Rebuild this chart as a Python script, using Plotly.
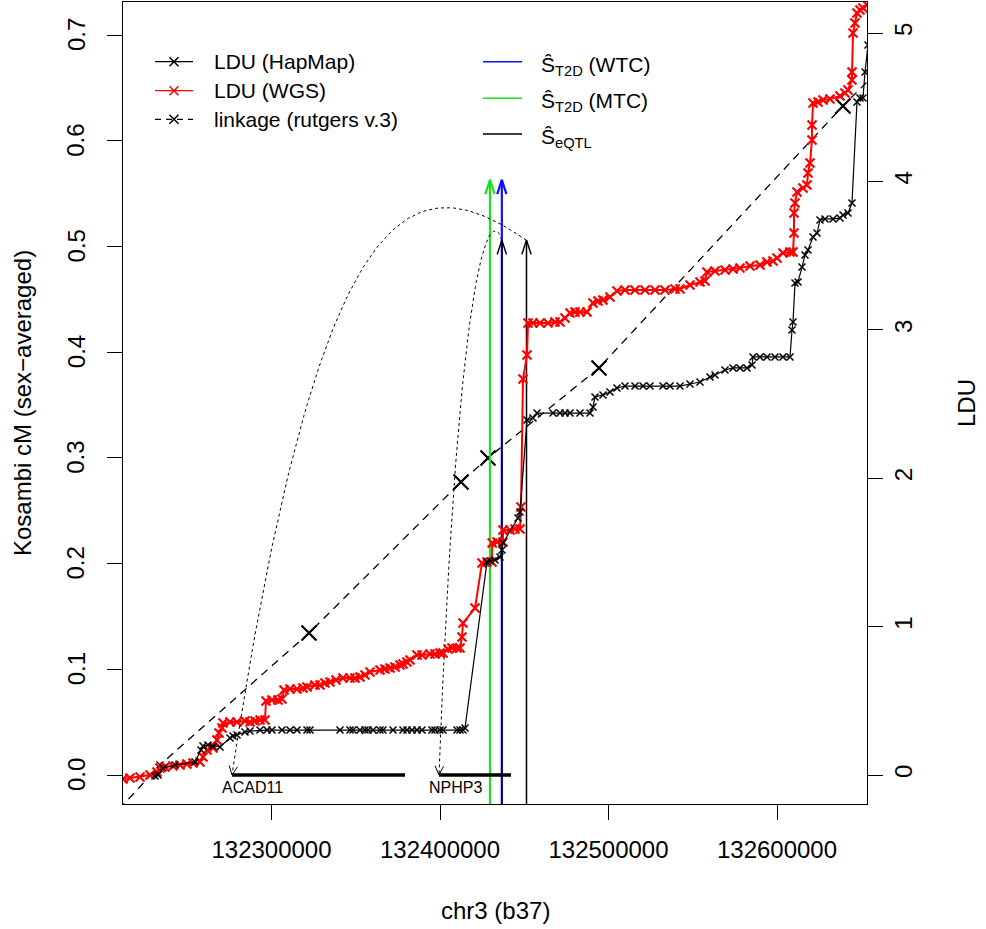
import math
import plotly.graph_objects as go

# ---------------- data ----------------
wgs_pos = [132211870, 132216024, 132221959, 132227894, 132232048, 132233828, 132236796, 132241543, 132245698, 132249852,
           132253413, 132257567, 132259347, 132261721, 132265282, 132267656, 132268843, 132270623, 132271217, 132275371,
           132279525, 132284273, 132287241, 132290208, 132293175, 132296143, 132296736, 132300297, 132303858, 132306232,
           132307418, 132310979, 132315134, 132318694, 132321068, 132325816, 132328783, 132331751, 132334718, 132338279,
           132342433, 132346588, 132349555, 132352522, 132355490, 132358457, 132364392, 132367359, 132370326, 132373294,
           132376261, 132378041, 132380415, 132382196, 132386350, 132389317, 132394065, 132397032, 132400000, 132401780,
           132404748, 132407121, 132410089, 132411869, 132413056, 132413650, 132420771, 132424926, 132427893, 132430860,
           132431000, 132433828, 132437389, 132437400, 132441543, 132444510, 132447477, 132448071, 132449258, 132451631,
           132452225, 132455193, 132459347, 132464095, 132468249, 132471216, 132474184, 132477151, 132480118, 132483086,
           132487240, 132490801, 132493768, 132496735, 132500890, 132505044, 132509792, 132515726, 132521661, 132527596,
           132533531, 132539465, 132542433, 132548367, 132554302, 132557269, 132558456, 132563204, 132569139, 132573887,
           132578041, 132583976, 132589910, 132594064, 132597625, 132600000, 132603560, 132607714, 132609495, 132610088,
           132610100, 132610682, 132611869, 132615429, 132617803, 132618397, 132619584, 132620771, 132620800, 132621364,
           132624331, 132627299, 132631453, 132637388, 132640355, 132642136, 132644509, 132644550, 132645103, 132646290,
           132647477, 132649257, 132651038, 132653411]
wgs_ldu = [-0.027, -0.020, -0.013, 0.000, 0.020, 0.047, 0.054, 0.061, 0.067, 0.074,
           0.081, 0.088, 0.121, 0.168, 0.182, 0.236, 0.283, 0.317, 0.350, 0.357,
           0.357, 0.364, 0.357, 0.364, 0.371, 0.371, 0.499, 0.505, 0.505, 0.512,
           0.573, 0.580, 0.580, 0.586, 0.593, 0.606, 0.606, 0.620, 0.627, 0.640,
           0.654, 0.654, 0.654, 0.660, 0.674, 0.694, 0.708, 0.714, 0.721, 0.728,
           0.741, 0.748, 0.761, 0.775, 0.809, 0.809, 0.815, 0.815, 0.822, 0.822,
           0.849, 0.856, 0.856, 0.856, 0.930, 1.024, 1.125, 1.429, 1.435, 1.435,
           1.563, 1.570, 1.570, 1.651, 1.651, 1.658, 1.658, 1.806, 2.668, 2.830,
           3.046, 3.046, 3.046, 3.046, 3.053, 3.053, 3.080, 3.113, 3.120, 3.120,
           3.120, 3.181, 3.194, 3.201, 3.221, 3.261, 3.268, 3.268, 3.268, 3.268,
           3.268, 3.275, 3.275, 3.302, 3.322, 3.329, 3.390, 3.396, 3.403, 3.410,
           3.416, 3.430, 3.437, 3.457, 3.464, 3.484, 3.518, 3.524, 3.524, 3.652,
           3.787, 3.854, 3.929, 3.956, 3.976, 4.057, 4.124, 4.279, 4.380, 4.528,
           4.535, 4.549, 4.555, 4.575, 4.596, 4.616, 4.683, 4.737, 5.000, 5.067,
           5.135, 5.155, 5.168, 5.189]

hap_pos = [132230861, 132232641, 132235609, 132242730, 132254600, 132258160, 132259347, 132262315, 132265282, 132269436,
           132275371, 132277152, 132279525, 132284273, 132287241, 132293175, 132297329, 132300297, 132306232, 132310979,
           132315134, 132321068, 132322849, 132340653, 132346588, 132348368, 132352522, 132355490, 132357270, 132360237,
           132364392, 132366172, 132372107, 132378041, 132380415, 132383383, 132386350, 132389317, 132395252, 132397032,
           132400000, 132401780, 132410089, 132411869, 132413650, 132414837, 132427893, 132429673, 132432641, 132435608,
           132436795, 132437389, 132446290, 132447477, 132451631, 132455193, 132457566, 132467062, 132471216, 132474184,
           132477151, 132483086, 132489020, 132490801, 132491988, 132496735, 132500890, 132505044, 132509792, 132515726,
           132520474, 132524629, 132532344, 132536498, 132542433, 132548367, 132554302, 132560237, 132563204, 132569139,
           132573887, 132578041, 132582195, 132585162, 132585756, 132589910, 132594064, 132598812, 132603560, 132607714,
           132608901, 132609495, 132610682, 132612462, 132614836, 132616616, 132618397, 132621364, 132623738, 132625518,
           132628486, 132633233, 132637388, 132639168, 132642136, 132644509, 132647477, 132649257, 132651038, 132652225,
           132654005]
hap_ldu = [-0.007, 0.000, 0.047, 0.067, 0.088, 0.168, 0.195, 0.202, 0.195, 0.189,
           0.249, 0.263, 0.270, 0.290, 0.296, 0.303, 0.303, 0.303, 0.303, 0.303,
           0.303, 0.303, 0.303, 0.303, 0.303, 0.303, 0.303, 0.303, 0.303, 0.303,
           0.303, 0.303, 0.303, 0.303, 0.303, 0.303, 0.303, 0.303, 0.303, 0.303,
           0.303, 0.303, 0.303, 0.303, 0.303, 0.317, 1.435, 1.442, 1.449, 1.469,
           1.516, 1.563, 1.732, 1.772, 2.392, 2.406, 2.439, 2.439, 2.439, 2.439,
           2.439, 2.439, 2.439, 2.480, 2.547, 2.561, 2.581, 2.608, 2.621, 2.621,
           2.621, 2.621, 2.621, 2.621, 2.621, 2.635, 2.648, 2.682, 2.695, 2.729,
           2.743, 2.743, 2.743, 2.763, 2.817, 2.817, 2.817, 2.817, 2.817, 2.817,
           2.999, 3.053, 3.315, 3.322, 3.423, 3.504, 3.538, 3.625, 3.652, 3.740,
           3.747, 3.747, 3.753, 3.774, 3.787, 3.854, 4.535, 4.562, 4.562, 4.737,
           4.919]

link_pos = [132198220, 132233828, 132322255, 132412463, 132428486, 132494362, 132639168, 132661126]
link_cm = [-0.052, 0.0095, 0.1343, 0.2772, 0.2999, 0.3851, 0.6329, 0.6679]
link_big = [False, False, True, True, True, True, True, False]

gene_names = ["ACAD11", "NPHP3"]
gene_start = [132276558, 132399407]
gene_end = [132379228, 132442136]

snp_t2d_wtc = 132436700
snp_t2d_mtc = 132429673
snp_eqtl = [132436700, 132451335]
eqtl_target = ["NPHP3", "ACAD11"]
t2d_arrow_cm = 0.563
eqtl_arrow_cm = 0.506

x_ticks = [132300000, 132400000, 132500000, 132600000]
cm_ticks = [0.0, 0.1, 0.2, 0.3, 0.4, 0.5, 0.6, 0.7]
ldu_ticks = [0, 1, 2, 3, 4, 5]

# ---------------- layout geometry ----------------
W, H = 986, 929
PL, PR, PT, PB = 123, 867, 2, 804
X_RANGE = [132211870, 132653412]
CM_RANGE = [-0.02743, 0.73125]
LDU_RANGE = [-0.19542, 5.2089]
BPP = (X_RANGE[1] - X_RANGE[0]) / (PR - PL)
CPP = (CM_RANGE[1] - CM_RANGE[0]) / (PB - PT)
FONT = "Liberation Sans, Arial, Helvetica, sans-serif"


def to_px(bp, cm):
    return PL + (bp - X_RANGE[0]) / BPP, PB - (cm - CM_RANGE[0]) / CPP


def to_data(x, y):
    return X_RANGE[0] + (x - PL) * BPP, CM_RANGE[0] + (PB - y) * CPP


def head(tip, direction, length, ang):
    tx, ty = tip
    dx, dy = direction
    n = math.hypot(dx, dy)
    ux, uy = dx / n, dy / n
    pts = []
    for s in (1, -1):
        a = math.radians(ang) * s
        bx = -ux * math.cos(a) + uy * math.sin(a)
        by = -ux * math.sin(a) - uy * math.cos(a)
        pts.append((tx + bx * length, ty + by * length))
    seq = [pts[0], (tx, ty), pts[1]]
    xs, ys = zip(*[to_data(px, py) for px, py in seq])
    return list(xs), list(ys)


def bezier(p0, p1, p2, p3, n=80):
    out = []
    for i in range(n + 1):
        t = i / n
        a, b, c, d = (1 - t) ** 3, 3 * t * (1 - t) ** 2, 3 * t * t * (1 - t), t ** 3
        out.append((a * p0[0] + b * p1[0] + c * p2[0] + d * p3[0],
                    a * p0[1] + b * p1[1] + c * p2[1] + d * p3[1]))
    return out


fig = go.Figure()

# linkage map (dashed line, small markers)
fig.add_trace(go.Scatter(
    x=link_pos, y=link_cm, mode="lines+markers", yaxis="y",
    line=dict(color="black", width=1.3, dash="8px,6px"),
    marker=dict(symbol="x-thin", size=7, line=dict(color="black", width=1.3), color="black"),
    showlegend=False, hoverinfo="skip"))
# enlarged markers of the linkage map
fig.add_trace(go.Scatter(
    x=[p for p, b in zip(link_pos, link_big) if b],
    y=[c for c, b in zip(link_cm, link_big) if b],
    mode="markers", yaxis="y",
    marker=dict(symbol="x-thin", size=15, line=dict(color="black", width=2.2), color="black"),
    showlegend=False, hoverinfo="skip"))

# LDU WGS (red)
fig.add_trace(go.Scatter(
    x=wgs_pos, y=wgs_ldu, mode="lines+markers", yaxis="y2",
    line=dict(color="#ff0000", width=2),
    marker=dict(symbol="x-thin", size=9, line=dict(color="#ff0000", width=2.2), color="#ff0000"),
    showlegend=False, hoverinfo="skip"))

# LDU HapMap (black)
fig.add_trace(go.Scatter(
    x=hap_pos, y=hap_ldu, mode="lines+markers", yaxis="y2",
    line=dict(color="black", width=1.2),
    marker=dict(symbol="x-thin", size=7, line=dict(color="black", width=1.5), color="black"),
    showlegend=False, hoverinfo="skip"))

# vertical signal arrows
bottom = CM_RANGE[0] - 0.05
arrow_specs = [(snp_t2d_mtc, t2d_arrow_cm, "#1fe01f", 2.2),
               (snp_t2d_wtc, t2d_arrow_cm, "#1010ff", 2.2)]
for pos in snp_eqtl:
    arrow_specs.append((pos, eqtl_arrow_cm, "black", 1.5))
for i, (pos, top, col, lw) in enumerate(arrow_specs):
    op = 0.75 if (col == "black" and pos == snp_t2d_wtc) else 1.0
    fig.add_trace(go.Scatter(x=[pos, pos], y=[bottom, top], mode="lines", yaxis="y",
                             line=dict(color=col, width=lw), opacity=op,
                             showlegend=False, hoverinfo="skip"))
    hx, hy = head(to_px(pos, top), (0, -1), 15, 18)
    fig.add_trace(go.Scatter(x=hx, y=hy, mode="lines", yaxis="y",
                             line=dict(color=col, width=lw), showlegend=False, hoverinfo="skip"))

# dotted eQTL -> gene curves (control offsets in screen px: style only)
curve_ctrl = {"ACAD11": ((-110, -75), (90, -600)),
              "NPHP3": ((-6.7, -25), (22, -575))}
for pos, g in zip(snp_eqtl, eqtl_target):
    gi = gene_names.index(g)
    p0 = to_px(pos, eqtl_arrow_cm)
    p3 = to_px(gene_start[gi], 0.0)
    c1, c2 = curve_ctrl[g]
    p1 = (p0[0] + c1[0], p0[1] + c1[1])
    p2 = (p3[0] + c2[0], p3[1] + c2[1])
    pts = bezier(p0, p1, p2, p3)
    cx, cy = zip(*[to_data(a, b) for a, b in pts])
    fig.add_trace(go.Scatter(x=list(cx), y=list(cy), mode="lines", yaxis="y",
                             line=dict(color="black", width=1, dash="3px,3px"),
                             showlegend=False, hoverinfo="skip"))
    hx, hy = head(p3, (p3[0] - p2[0], p3[1] - p2[1]), 10, 25)
    fig.add_trace(go.Scatter(x=hx, y=hy, mode="lines", yaxis="y",
                             line=dict(color="black", width=1), showlegend=False, hoverinfo="skip"))

# gene bars
annotations = []
for name, s, e in zip(gene_names, gene_start, gene_end):
    fig.add_trace(go.Scatter(x=[s, e], y=[0, 0], mode="lines", yaxis="y",
                             line=dict(color="black", width=3.5), showlegend=False, hoverinfo="skip"))
    annotations.append(dict(x=s, y=0, xref="x", yref="y", text=name, showarrow=False,
                            xanchor="left", yanchor="middle", xshift=-12, yshift=-12,
                            font=dict(family=FONT, size=16, color="black")))

# ---------------- manual legend ----------------
def ppos(x, y):
    return (x - PL) / (PR - PL), (PB - y) / (PB - PT)

leg1 = [("LDU (HapMap)", "black", "solid", 61.7),
        ("LDU (WGS)", "#ff0000", "solid", 90.7),
        ("linkage (rutgers v.3)", "black", "dash", 119.3)]
for label, col, dash, ly in leg1:
    xa, ya = to_data(155, ly)
    xb, yb = to_data(193, ly)
    xm, ym = to_data(174, ly)
    fig.add_trace(go.Scatter(x=[xa, xb], y=[ya, yb], mode="lines", yaxis="y",
                             line=dict(color=col, width=1.3, dash="6px,5px" if dash == "dash" else "solid"),
                             showlegend=False, hoverinfo="skip"))
    fig.add_trace(go.Scatter(x=[xm], y=[ym], mode="markers", yaxis="y",
                             marker=dict(symbol="x-thin", size=9, line=dict(color=col, width=1.5), color=col),
                             showlegend=False, hoverinfo="skip"))
    px_, py_ = ppos(212, ly)
    annotations.append(dict(x=px_, y=py_, xref="paper", yref="paper", text=label, showarrow=False,
                            xanchor="left", yanchor="middle", font=dict(family=FONT, size=21, color="black")))

leg2 = [("Ŝ<sub>T2D</sub> (WTC)", "#1010ff", 61.7),
        ("Ŝ<sub>T2D</sub> (MTC)", "#1fe01f", 98.3),
        ("Ŝ<sub>eQTL</sub>", "black", 134.0)]
for label, col, ly in leg2:
    xa, ya = to_data(483, ly)
    xb, yb = to_data(522, ly)
    fig.add_trace(go.Scatter(x=[xa, xb], y=[ya, yb], mode="lines", yaxis="y",
                             line=dict(color=col, width=1.5), showlegend=False, hoverinfo="skip"))
    px_, py_ = ppos(539, ly + 4)
    annotations.append(dict(x=px_, y=py_, xref="paper", yref="paper", text=label, showarrow=False,
                            xanchor="left", yanchor="middle", font=dict(family=FONT, size=21, color="black")))

# left tick labels (rotated, as in the reference)
for v in cm_ticks:
    annotations.append(dict(x=(76 - PL) / (PR - PL), y=v, xref="paper", yref="y", text="%.1f" % v,
                            textangle=-90, showarrow=False, xanchor="center", yanchor="middle",
                            font=dict(family=FONT, size=24, color="black")))

# axis titles
annotations.append(dict(x=0.5, y=(PB - 910) / (PB - PT), xref="paper", yref="paper", text="chr3 (b37)",
                        showarrow=False, xanchor="center", yanchor="middle",
                        font=dict(family=FONT, size=24, color="black")))
annotations.append(dict(x=(22 - PL) / (PR - PL), y=0.5, xref="paper", yref="paper",
                        text="Kosambi cM (sex\u2212averaged)", textangle=-90,
                        showarrow=False, xanchor="center", yanchor="middle",
                        font=dict(family=FONT, size=24, color="black")))
annotations.append(dict(x=(966 - PL) / (PR - PL), y=0.5, xref="paper", yref="paper",
                        text="LDU", textangle=-90,
                        showarrow=False, xanchor="center", yanchor="middle",
                        font=dict(family=FONT, size=24, color="black")))

axis_common = dict(showgrid=False, zeroline=False, ticks="outside", ticklen=15, tickwidth=1,
                   tickcolor="black", linecolor="black", linewidth=1, showline=True,
                   tickfont=dict(family=FONT, size=24, color="black"), automargin=False)

fig.update_layout(
    width=W, height=H, autosize=False,
    margin=dict(l=PL, r=W - PR, t=PT, b=H - PB, pad=0),
    paper_bgcolor="white", plot_bgcolor="white",
    showlegend=False,
    xaxis=dict(range=X_RANGE, tickvals=x_ticks, ticktext=[str(v) for v in x_ticks],
               mirror=True, ticklabelstandoff=9, **axis_common),
    yaxis=dict(range=CM_RANGE, tickvals=cm_ticks, showticklabels=False,
               mirror=True, **axis_common),
    yaxis2=dict(range=LDU_RANGE, tickvals=ldu_ticks, ticktext=[str(v) for v in ldu_ticks],
                overlaying="y", side="right", tickangle=-90, **axis_common),
    annotations=annotations,
)

fig.write_html("out.html")
